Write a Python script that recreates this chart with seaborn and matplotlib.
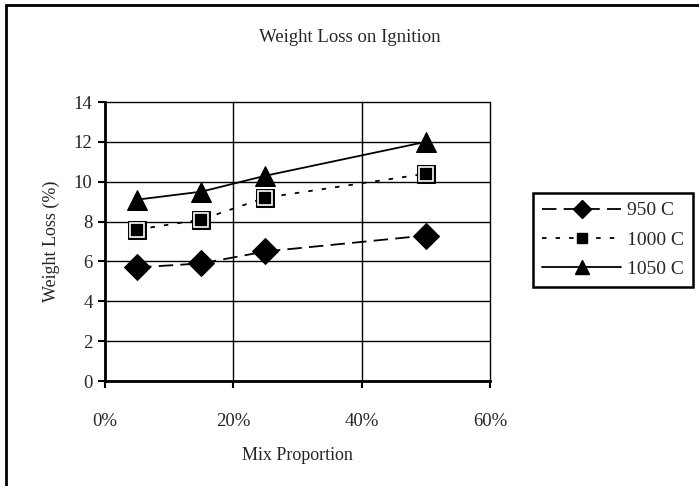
import matplotlib
matplotlib.use("Agg")
import matplotlib.pyplot as plt
import seaborn as sns
import pandas as pd
from matplotlib.lines import Line2D
from matplotlib.patches import Rectangle

mix = [0.05, 0.15, 0.25, 0.50]
loss_950 = [5.7, 5.9, 6.5, 7.3]
loss_1000 = [7.6, 8.1, 9.2, 10.4]
loss_1050 = [9.1, 9.5, 10.3, 12.0]
series_names = ["950 C", "1000 C", "1050 C"]
y_ticks = [0, 2, 4, 6, 8, 10, 12, 14]
x_ticks = [0, 0.2, 0.4, 0.6]
x_tick_labels = ["0%", "20%", "40%", "60%"]

sns.set_style("white")
plt.rcParams["font.family"] = ["Liberation Serif", "DejaVu Serif"]

W, H = 699, 486
fig = plt.figure(figsize=(W / 100, H / 100), dpi=100)
ax = fig.add_axes([105 / W, 1 - 381 / H, (490 - 105) / W, (381 - 102) / H])

DASH = (0, (8, 4))
DOT = (0, (2.5, 5))
styles = {
    "950 C": dict(marker="D", ls=DASH, ms=13),
    "1000 C": dict(marker="s", ls=DOT, ms=13),
    "1050 C": dict(marker="^", ls="-", ms=14.5),
}
values = {"950 C": loss_950, "1000 C": loss_1000, "1050 C": loss_1050}

for name in series_names:
    df = pd.DataFrame({"mix": mix, "loss": values[name]})
    st = styles[name]
    sns.lineplot(data=df, x="mix", y="loss", ax=ax, color="black", lw=1.3,
                 linestyle=st["ls"], marker=st["marker"], markersize=st["ms"],
                 markerfacecolor="black", markeredgecolor="black", legend=False)
    if name == "1000 C":
        ax.plot(mix, values[name], ls="none", marker="s", ms=10,
                markerfacecolor="black", markeredgecolor="white", mew=1.2)

ax.set_xlim(0, 0.6)
ax.set_ylim(0, 14)
ax.set_yticks(y_ticks)
ax.set_xticks(x_ticks)
ax.set_xticklabels(x_tick_labels)
ax.grid(True, color="black", lw=1)
for gl in ax.get_xgridlines() + ax.get_ygridlines():
    gl.set_clip_on(False)
ax.set_axisbelow(True)
for s in ["top", "right"]:
    ax.spines[s].set_visible(False)
for s in ["left", "bottom"]:
    ax.spines[s].set_linewidth(2)
    ax.spines[s].set_color("black")
ax.tick_params(axis="both", direction="out", length=5, width=1.5, color="black",
               labelsize=13.5, left=True, bottom=True)
ax.tick_params(axis="x", pad=18)
ax.tick_params(axis="y", pad=4)
ax.set_xlabel("Mix Proportion", fontsize=13, labelpad=12)
ax.set_ylabel("Weight Loss (%)", fontsize=13, labelpad=10)

fig.text(W / 2 / W, 1 - 38 / H, "Weight Loss on Ignition", ha="center", va="center", fontsize=13.5)

handles = [
    Line2D([], [], color="black", lw=1.3, ls=DASH, marker="D", ms=9),
    Line2D([], [], color="black", lw=1.3, ls=DOT, marker="s", ms=7.5,
           markerfacecolor="black", markeredgecolor="black"),
    Line2D([], [], color="black", lw=1.3, ls="-", marker="^", ms=10),
]
leg = fig.legend(handles, series_names, loc="upper left",
                 bbox_to_anchor=(533 / W, 1 - 193 / H), frameon=True, framealpha=1,
                 fontsize=14, handlelength=4.1, handletextpad=0.3,
                 borderpad=0.45, labelspacing=0.6, fancybox=False, borderaxespad=0)
leg.get_frame().set_edgecolor("black")
leg.get_frame().set_linewidth(1.8)

fig.patches.append(Rectangle((5.5 / W, -0.1), 1.2, 1 - 5.5 / H + 0.1, transform=fig.transFigure,
                             fill=False, edgecolor="black", lw=2))

fig.savefig("out.png", dpi=100)
